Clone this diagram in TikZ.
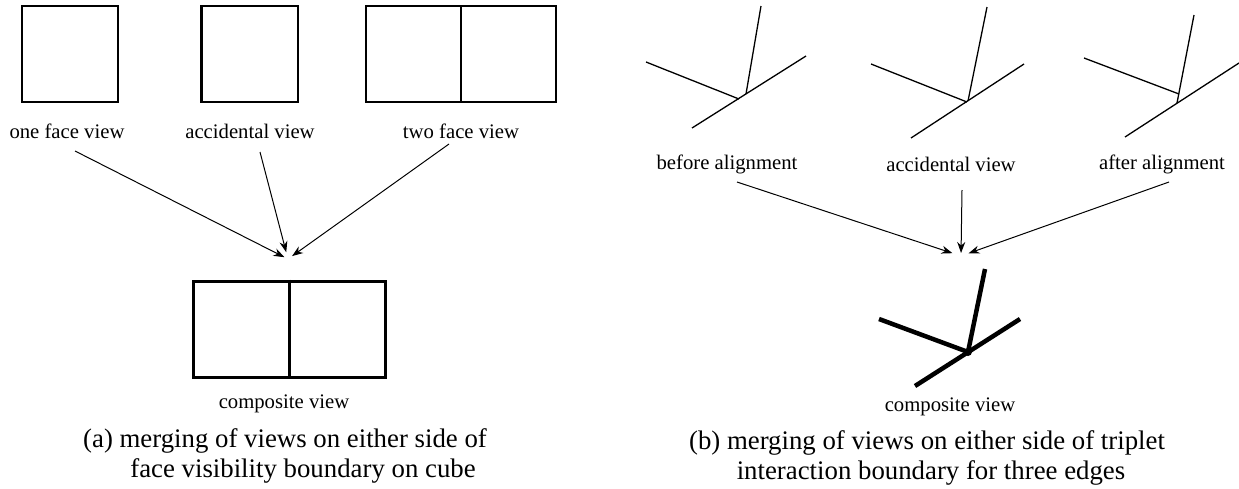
\documentclass[tikz,border=0pt]{standalone}
\usepackage{fontspec}
\setmainfont{Liberation Serif}
\usetikzlibrary{positioning}
\usetikzlibrary{arrows.meta}
\tikzstyle{face} = [rectangle, 
minimum width=96pt, 
minimum height=96pt, 
inner sep=0pt,
draw=black,
line width=1.3pt]
\tikzstyle{merged} = [rectangle, 
minimum width=192pt, 
minimum height=96pt, 
inner sep=0pt,
draw=black,
line width=3pt]
\tikzstyle{label} = [inner sep=0pt, font=\fontsize{20.7}{24}\selectfont]
\tikzstyle{caption} = [inner sep=0pt, font=\fontsize{26.8}{31}\selectfont]
\tikzstyle{edge} = [line width=1.3pt]
\tikzstyle{boldedge} = [line width=4.5pt]
\tikzstyle{arrow} = [line width=1pt,->,>={Stealth[length=11pt,width=8pt]}]

\begin{document}
\begin{tikzpicture}[x=1pt, y=-1pt]
            \useasboundingbox (0,0) rectangle (1239,488);
            % (a) cube faces
            \node (one) [face] at (70,54) {};
            \node (acc) [face] at (250,54) {};
            \draw [line width=3pt] (acc.north west) -- (acc.south west);
            \node (two) [face, minimum width=190pt] at (461,54) {};
            \draw [edge] (two.north) -- (two.south);

            \node (onelab) [label] at (67,131) {one face view};
            \node (acclab) [label] at (250,131) {accidental view};
            \node (twolab) [label] at (461,131) {two face view};

            \coordinate (mergeA) at (288,259);
            \node (comp) [merged] at (289,329) {};
            \draw [line width=3pt] (comp.north) -- (comp.south);
            \node (complab) [label] at (284,404) {composite view};

            \draw [arrow, shorten >=4pt] ([xshift=8pt,yshift=-20pt]onelab.center) -- (mergeA);
            \draw [arrow, shorten >=7pt] ([xshift=10pt,yshift=-21pt]acclab.center) -- (mergeA);
            \draw [arrow, shorten >=5pt] ([xshift=-12pt,yshift=-13pt]twolab.center) -- (mergeA);

            \node (capa1) [caption] at (285,441) {(a) merging of views on either side of};
            \node (capa2) [caption] at (303,471) {face visibility boundary on cube};

            % (b) three edges
            \draw [edge] (692,128) -- (806,56);
            \draw [edge] (646,62) -- (739,99);
            \draw [edge] (761,6) -- (746,94);

            \draw [edge] (911,138) -- (1024,64);
            \draw [edge] (871,64) -- (967,102);
            \draw [edge] (987,7) -- (968,101);

            \draw [edge] (1125,137) -- (1239,63);
            \draw [edge] (1084,58) -- (1179,94);
            \draw [edge] (1194,15) -- (1177,103);

            \node (beflab) [label] at (727,164) {before alignment};
            \node (acc2lab) [label] at (951,164) {accidental view};
            \node (aftlab) [label] at (1162,164) {after alignment};

            \coordinate (mergeB) at (961,256);
            \draw [arrow, shorten >=9pt] ([xshift=10pt,yshift=-18pt]beflab.center) -- (mergeB);
            \draw [arrow, shorten >=3pt] ([xshift=11pt,yshift=-26pt]acc2lab.center) -- (mergeB);
            \draw [arrow, shorten >=8pt] ([xshift=7pt,yshift=-18pt]aftlab.center) -- (mergeB);

            \draw [boldedge] (985,269) -- (968,352);
            \draw [boldedge] (879,319) -- (968,352);
            \draw [boldedge] (915,386) -- (1020,319);
            \fill (968,352) circle (4pt);
            \node (comp2lab) [label] at (950,407) {composite view};

            \node (capb1) [caption] at (927,443) {(b) merging of views on either side of triplet};
            \node (capb2) [caption] at (931,473) {interaction boundary for three edges};
        \end{tikzpicture}
\end{document}
